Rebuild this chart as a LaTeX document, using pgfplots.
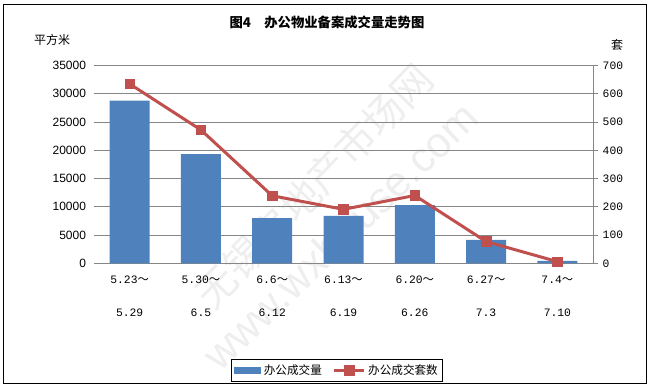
\documentclass[border=0pt]{standalone}
\usepackage{fontspec}
\setmainfont{Liberation Sans}
\newfontfamily\cjk{Noto Sans CJK SC}
\newfontfamily\mono{Liberation Mono}
\usepackage{pgfplots}
\pgfplotsset{compat=1.18}
\definecolor{barblue}{HTML}{4F81BD}
\definecolor{linered}{HTML}{C0504D}
\definecolor{gridgray}{HTML}{868686}
\pgfplotsset{
  mylineleg/.style={legend image code/.code={\draw[mark repeat=2,mark phase=2,##1] plot coordinates {(0pt,0pt) (11.25pt,0pt) (22.5pt,0pt)};}},
  mybarleg/.style={legend image code/.code={\fill[barblue] (0pt,-2.25pt) rectangle (20pt,2.25pt);}}
}
\newcommand{\xl}[2]{{\mono #1}{\cjk ～}\\{\mono #2}}
\begin{document}
\begin{tikzpicture}
\begin{scope}[x=0.75pt,y=-0.75pt]
\path[use as bounding box] (0,0) rectangle (652,388);
\node[rotate=46, text=gray!13, font=\cjk\fontsize{30}{30}\selectfont] at (314,186) {无锡房地产市场网};
\node[rotate=44, text=gray!13, font=\fontsize{32}{32}\selectfont] at (340,236) {www.wxhouse.com};
\end{scope}

\begin{axis}[
  at={(70.5pt,-197.475pt)}, anchor=south west,
  scale only axis, width=374.25pt, height=148.35pt,
  xmin=-0.5, xmax=6.5, ymin=0, ymax=35000,
  enlargelimits=false,
  axis x line*=bottom, axis y line*=left,
  x axis line style={gridgray, line width=0.75pt, -},
  y axis line style={draw=none},
  xtick={0,...,6}, ytick={0,5000,...,35000},
  yticklabels={0,5000,10000,15000,20000,25000,30000,35000},
  scaled y ticks=false,
  major tick length=0pt,
  tick style={draw=none},
  ymajorgrids, grid style={gridgray, line width=0.75pt},
  yticklabel style={font=\fontsize{9}{9}\selectfont, xshift=-2.5pt},
  xticklabels={{\xl{5.23}{5.29}},{\xl{5.30}{6.5}},{\xl{6.6}{6.12}},{\xl{6.13}{6.19}},{\xl{6.20}{6.26}},{\xl{6.27}{7.3}},{\xl{7.4}{7.10}}},
  xticklabel style={align=center, anchor=north, yshift=-6pt, font=\fontsize{8.5}{24.4}\selectfont},
  ybar, bar width=30pt,
]
\addplot[fill=barblue, draw=none] coordinates {(0,28800) (1,19300) (2,8000) (3,8400) (4,10300) (5,4150) (6,450)};
\end{axis}

\begin{axis}[
  at={(70.5pt,-197.475pt)}, anchor=south west,
  scale only axis, width=374.25pt, height=148.35pt,
  xmin=-0.5, xmax=6.5, ymin=0, ymax=700,
  enlargelimits=false,
  axis x line=none, axis y line*=right,
  y axis line style={gridgray, line width=0.75pt, -},
  ytick={0,100,...,700},
  yticklabels={0,100,200,300,400,500,600,700},
  ytick style={gridgray, line width=0.75pt},
  tick align=outside, major tick length=3.75pt,
  yticklabel style={font=\mono\fontsize{8.5}{9}\selectfont},
  clip=false,
  legend columns=2,
  legend style={at={(0.487,-0.542)}, anchor=center, draw=black, line width=0.75pt,
    font=\cjk\fontsize{8.7}{9}\selectfont, inner sep=1.5pt,
    /tikz/every even column/.append style={column sep=6pt}},
]
\addlegendimage{mybarleg}
\addlegendentry{办公成交量}
\addplot[linered, line width=2.25pt, mark=square*, mark size=3.6pt,
  mark options={fill=linered, draw=linered, line width=0.4pt}, mylineleg]
  coordinates {(0,635) (1,472) (2,239) (3,191) (4,240) (5,77) (6,6)};
\addlegendentry{办公成交套数}
\end{axis}

\begin{scope}[x=0.75pt,y=-0.75pt]
\draw[black, line width=0.75pt] (3.5,4.5) rectangle (646,383);
\node[font=\cjk\bfseries\fontsize{10}{10}\selectfont] at (327,22.5) {图4　办公物业备案成交量走势图};
\node[font=\cjk\fontsize{9}{9}\selectfont] at (52,39.5) {平方米};
\node[font=\cjk\fontsize{9}{9}\selectfont] at (617,45) {套};
\end{scope}
\end{tikzpicture}
\end{document}
